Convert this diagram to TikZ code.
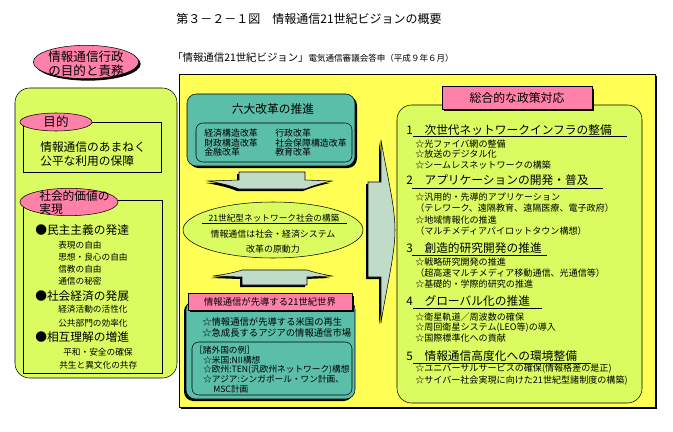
\documentclass[tikz,border=0pt]{standalone}
\usepackage{fontspec}
\setmainfont{Noto Sans CJK JP}
\usetikzlibrary{shapes.geometric,shadows}

\definecolor{ylwbg}{RGB}{255,255,85}
\definecolor{limebg}{RGB}{218,252,96}
\definecolor{pinkbg}{RGB}{255,128,168}
\definecolor{tealbg}{RGB}{90,190,168}
\definecolor{arrowbg}{RGB}{192,220,200}
\newcommand\fsz[2]{\fontsize{#1}{#2}\selectfont}

\begin{document}
\begin{tikzpicture}[
  x=0.75pt,y=-0.75pt,
  txt/.style   ={anchor=west,inner sep=0pt},
  head/.style  ={txt,font=\fsz{8.8pt}{10pt}},
  item/.style  ={txt,font=\fsz{6.8pt}{8pt}},
  small/.style ={txt,font=\fsz{6.5pt}{7.5pt}},
  shade/.style ={drop shadow={shadow xshift=1.5pt,shadow yshift=-1.5pt,
                 fill=black,opacity=1}},
  shadeL/.style={drop shadow={shadow xshift=-1.5pt,shadow yshift=-1.5pt,
                 fill=black,opacity=1}},
  pinkell/.style={draw,ellipse,fill=pinkbg,inner sep=0pt},
  panel/.style ={draw,fill=limebg,rounded corners=11pt},
  tealbox/.style={draw,fill=tealbg,rounded corners=7pt},
  frame/.style ={draw,rounded corners=5pt},
  blockarrow/.style={draw,fill=arrowbg},
]
\useasboundingbox[fill=white] (0,0) rectangle (673,431);

%% ===== Title =================================================================
\node[font=\fsz{9pt}{10pt}] (title) at (309,19)
      {第３－２－１図　情報通信21世紀ビジョンの概要};
\node[txt] (source) at (172,58)
      {{\fsz{7.8pt}{9pt}「情報通信21世紀ビジョン」}{\fsz{6.4pt}{8pt}電気通信審議会答申（平成９年６月）}};

%% ===== Left panel ============================================================
\draw[panel] (15,88) rectangle (177,378);
\node[pinkell,shade,minimum width=79pt,minimum height=25pt] (missionell) at (86,62) {};
\node[align=center,font=\fsz{9.4pt}{10.5pt},inner sep=0pt] (mission) at (86,64)
      {情報通信行政\\の目的と責務};

\draw (23,122) rectangle (161,172);
\node[pinkell,minimum width=54pt,minimum height=13.5pt,
      font=\fsz{9.4pt}{10pt}] (purpose) at (56,122) {目的};
\node[txt,align=left,font=\fsz{8.8pt}{10.5pt}] (purposetxt) at (40,154)
      {情報通信のあまねく\\公平な利用の保障};

\draw (23,200) rectangle (162,373);
\node[pinkell,minimum width=73.5pt,minimum height=20.5pt] (valueell) at (69,202) {};
\node[txt,align=left,font=\fsz{8.8pt}{9.75pt}] (value) at (39,203)
      {社会的価値の\\実現};

\node[head] (v1) at (35,230) {●民主主義の発達};
\node[small] (v1a) at (58,245) {表現の自由};
\node[small] (v1b) at (58,257) {思想・良心の自由};
\node[small] (v1c) at (58,269) {信教の自由};
\node[small] (v1d) at (58,281) {通信の秘密};
\node[head] (v2) at (35,296) {●社会経済の発展};
\node[small] (v2a) at (58,309) {経済活動の活性化};
\node[small] (v2b) at (58,323) {公共部門の効率化};
\node[head] (v3) at (35,337) {●相互理解の増進};
\node[small] (v3a) at (63,352) {平和・安全の確保};
\node[small] (v3b) at (59,365) {共生と異文化の共存};

%% ===== Yellow frame ==========================================================
\draw[fill=ylwbg,shade] (179,74) rectangle (655,407);

%% ===== Middle column =========================================================
\draw[tealbox,shade] (187,94) rectangle (355,166);
\node[font=\fsz{8.8pt}{10pt}] (reform) at (273,109) {六大改革の推進};
\draw[frame] (196,123) rectangle (352,162);
\node[txt,align=left,font=\fsz{6.7pt}{7.2pt}] (reformL) at (204,143)
      {経済構造改革\\財政構造改革\\金融改革};
\node[txt,align=left,font=\fsz{6.7pt}{7.2pt}] (reformR) at (275,143)
      {行政改革\\社会保障構造改革\\教育改革};

\draw[blockarrow,shadeL] (239,172) -- (305,172) -- (305,180) -- (332,181)
      .. controls (318,184) and (310,187) .. (305,189) -- (239,189)
      .. controls (234,187) and (226,184) .. (208,181) -- (239,180) -- cycle;

\node[draw,ellipse,fill=limebg,minimum width=135pt,minimum height=42pt]
      (society) at (273,230) {};
\node[font=\fsz{6.5pt}{7.5pt},inner sep=0pt] (soc1) at (274,218)
      {21世紀型ネットワーク社会の構築};
\draw (202,223) -- (347,223);
\node[font=\fsz{6.7pt}{7.5pt},inner sep=0pt] (soc2) at (273,234)
      {情報通信は社会・経済システム};
\node[font=\fsz{6.7pt}{7.5pt},inner sep=0pt] (soc3) at (273,249)
      {改革の原動力};

\draw[blockarrow,shadeL] (242,285) -- (242,277) -- (213,276)
      .. controls (228,274) and (236,272) .. (242,270) -- (307,270)
      .. controls (313,272) and (321,274) .. (332,276) -- (307,277)
      -- (307,285) -- cycle;

\draw[tealbox,shadeL] (186,300) rectangle (355,399);
\node[draw,fill=pinkbg,shade,minimum width=123pt,minimum height=12.5pt,
      font=\fsz{7pt}{8pt},inner sep=0pt] (world) at (270,302)
      {情報通信が先導する21世紀世界};
\node[txt,align=left,font=\fsz{7pt}{8.2pt}] (worldtxt) at (202,327)
      {☆情報通信が先導する米国の再生\\☆急成長するアジアの情報通信市場};
\draw[frame] (192,342) rectangle (352,395);
\node[small] (ex0) at (194,350) {［諸外国の例］};
\node[small] (ex1) at (203,360) {☆米国:NII構想};
\node[small] (ex2) at (203,370) {☆欧州:TEN(汎欧州ネットワーク)構想};
\node[small] (ex3) at (203,379) {☆アジア:シンガポール・ワン計画、};
\node[small] (ex4) at (213,389) {MSC計画};

%% ===== Big arrow to the right ================================================
\draw[blockarrow,shadeL] (368,182) -- (381,182) -- (381,140)
      .. controls (386,170) and (395,205) .. (395,230)
      .. controls (395,255) and (386,290) .. (381,323)
      -- (381,277) -- (368,277) -- cycle;

%% ===== Right panel ===========================================================
\draw[panel] (397,105) rectangle (642,403);
\node[draw,fill=pinkbg,shade,minimum width=112.5pt,minimum height=17pt,
      font=\fsz{8.9pt}{10pt}] (policy) at (517,98) {総合的な政策対応};

\node[head] (h1) at (406,130) {1　次世代ネットワークインフラの整備};
\draw (413,136) -- (627,136);
\node[item] (h1a) at (415,144) {☆光ファイバ網の整備};
\node[item] (h1b) at (415,154) {☆放送のデジタル化};
\node[item] (h1c) at (415,165) {☆シームレスネットワークの構築};

\node[head] (h2) at (406,180) {2　アプリケーションの開発・普及};
\draw (412,188) -- (603,188);
\node[item] (h2a) at (415,197) {☆汎用的・先導的アプリケーション};
\node[item] (h2b) at (415,208) {（テレワーク、遠隔教育、遠隔医療、電子政府）};
\node[item] (h2c) at (415,220) {☆地域情報化の推進};
\node[item] (h2d) at (415,231) {（マルチメディアパイロットタウン構想）};

\node[head] (h3) at (406,248) {3　創造的研究開発の推進};
\draw (412,255) -- (547,255);
\node[item] (h3a) at (415,262) {☆戦略研究開発の推進};
\node[item] (h3b) at (415,273) {（超高速マルチメディア移動通信、光通信等）};
\node[item] (h3c) at (415,284) {☆基礎的・学際的研究の推進};

\node[head] (h4) at (406,301) {4　グローバル化の推進};
\draw (413,308) -- (542,308);
\node[item] (h4a) at (415,317) {☆衛星軌道／周波数の確保};
\node[item] (h4b) at (415,328) {☆周回衛星システム(LEO等)の導入};
\node[item] (h4c) at (415,338) {☆国際標準化への貢献};

\node[head] (h5) at (406,356) {5　情報通信高度化への環境整備};
\draw (413,363) -- (591,363);
\node[item] (h5a) at (415,369) {☆ユニバーサルサービスの確保(情報格差の是正)};
\node[item] (h5b) at (415,381) {☆サイバー社会実現に向けた21世紀型諸制度の構築)};

\end{tikzpicture}
\end{document}
